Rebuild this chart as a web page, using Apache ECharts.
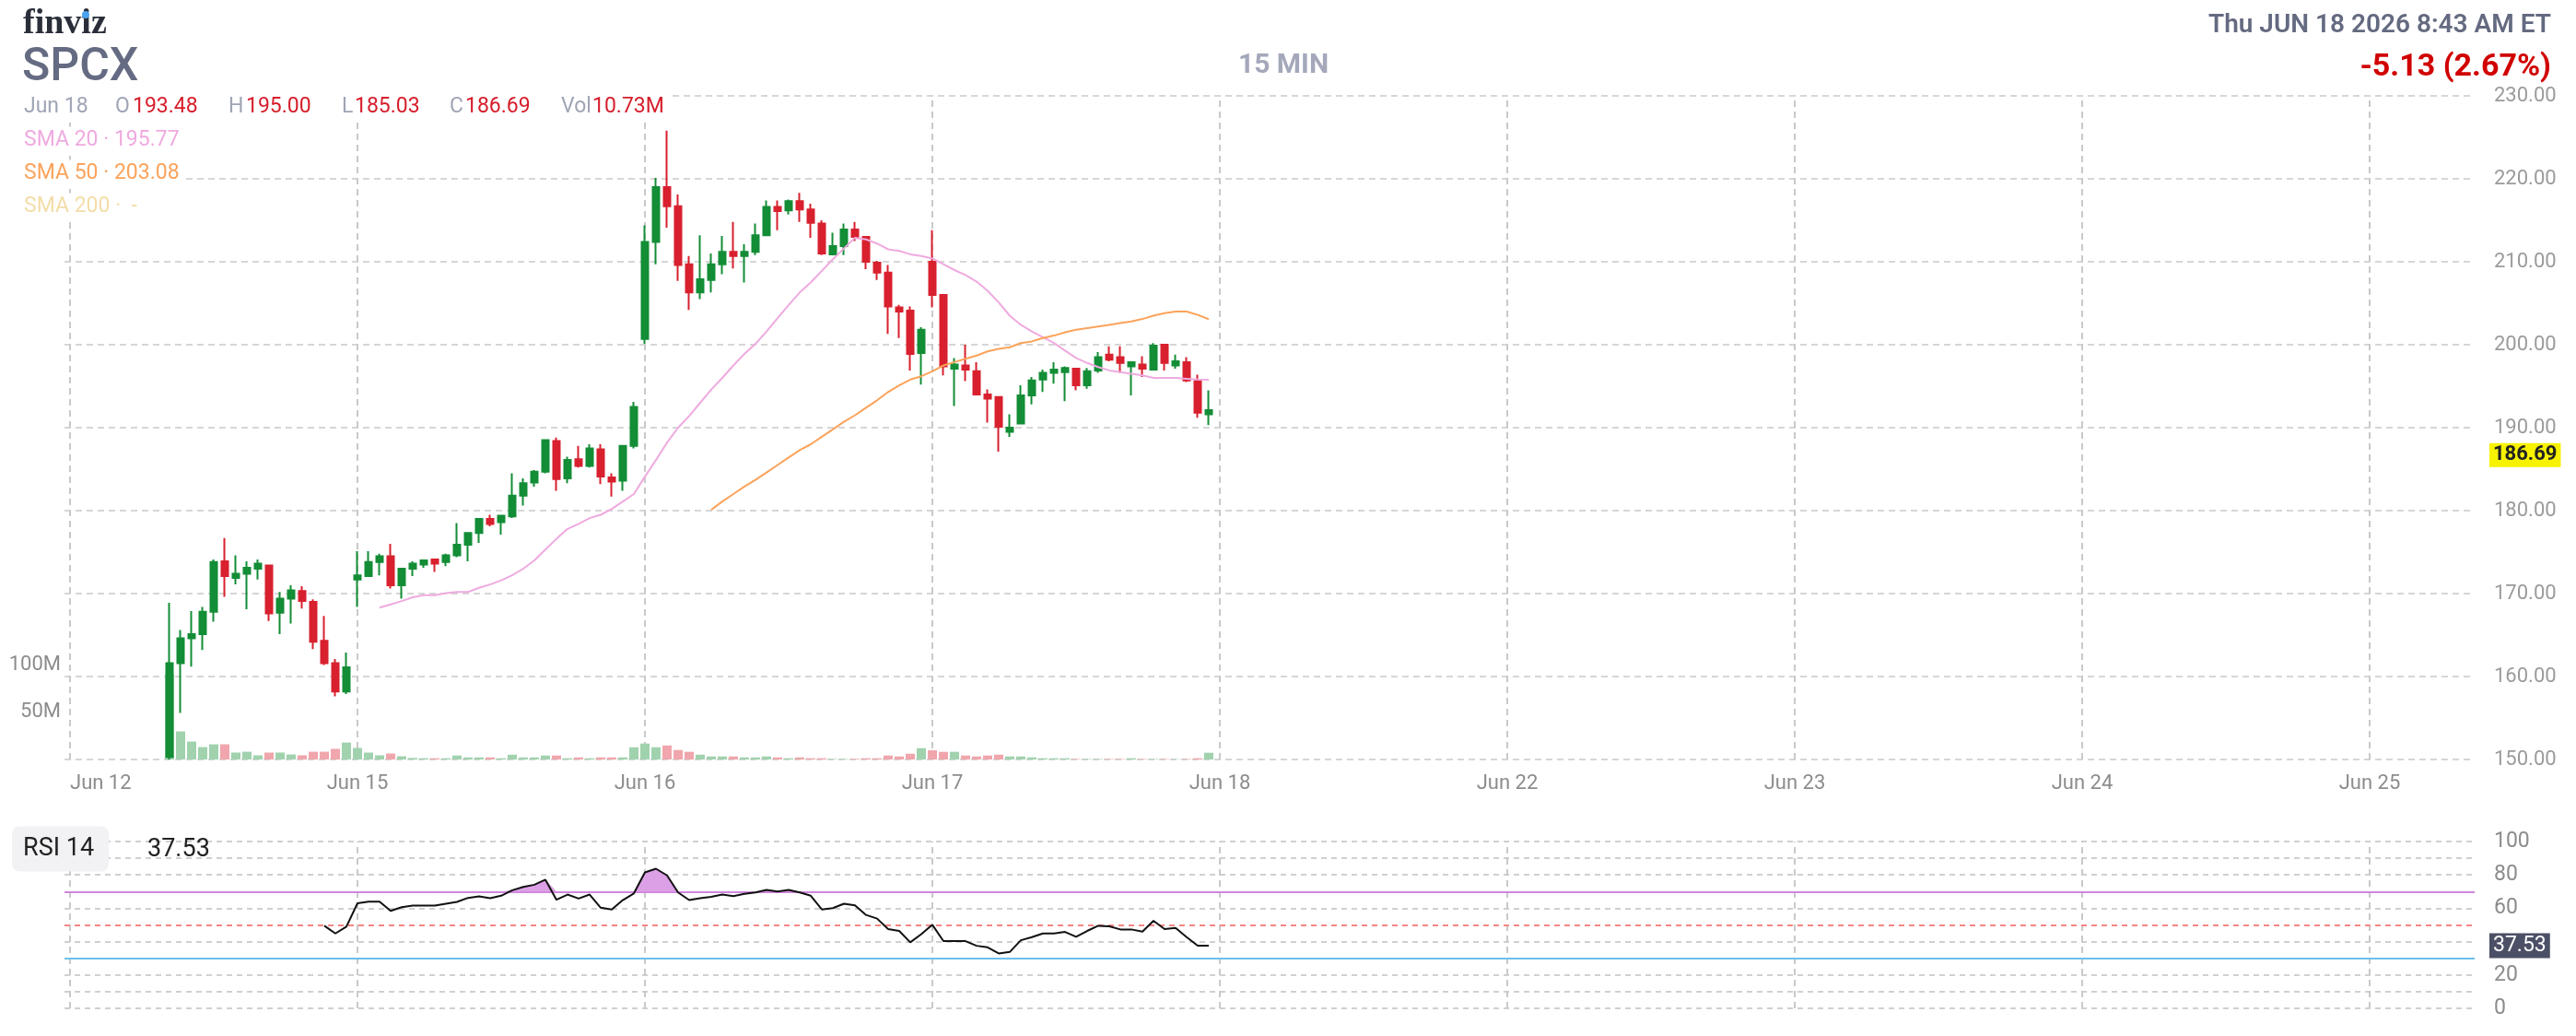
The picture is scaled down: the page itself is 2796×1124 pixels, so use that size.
<!DOCTYPE html>
<html>
<head>
<meta charset="utf-8">
<title>SPCX 15 MIN</title>
<script src="https://cdn.jsdelivr.net/npm/echarts@6/dist/echarts.min.js"></script>
<style>
  html, body { margin: 0; padding: 0; background: #fff; }
  #chart { width: 2796px; height: 1124px; }
</style>
</head>
<body>
<div id="chart"></div>
<script>
// sessions on the x axis, 26 fifteen-minute slots each
const days = ['Jun 12', 'Jun 15', 'Jun 16', 'Jun 17', 'Jun 18', 'Jun 22', 'Jun 23', 'Jun 24', 'Jun 25']
const barsPerDay = 26
const slotCount = 218

// [open, close, low, high]
const jun12Bars = [
  [150.3, 161.6, 150.0, 168.9], [161.6, 164.6, 155.6, 165.6], [164.6, 165.1, 161.2, 167.9],
  [165.1, 167.8, 163.2, 168.4], [167.8, 173.8, 166.6, 174.1], [173.9, 172.1, 169.6, 176.7],
  [171.9, 172.4, 171.1, 174.6], [172.4, 173.1, 168.1, 173.9], [173.0, 173.6, 171.7, 174.1],
  [173.4, 167.6, 166.7, 173.4], [167.7, 169.4, 165.1, 170.2], [169.4, 170.4, 166.4, 171.0],
  [170.3, 169.1, 168.2, 170.9], [169.0, 164.2, 163.3, 169.3], [164.3, 161.6, 161.4, 167.3],
  [161.6, 158.2, 157.6, 162.1], [158.2, 161.1, 157.9, 162.9]
]
const jun15Bars = [
  [171.7, 172.2, 168.4, 175.1], [172.1, 173.8, 172.0, 175.1], [173.8, 174.5, 172.2, 174.8],
  [174.5, 171.0, 170.6, 176.0], [171.0, 173.0, 169.4, 173.1], [173.0, 173.6, 172.1, 173.9],
  [173.5, 174.0, 173.1, 174.1], [174.1, 173.6, 172.6, 174.2], [173.8, 174.6, 173.3, 174.8],
  [174.6, 175.9, 174.4, 178.5], [175.9, 177.3, 173.9, 177.3], [177.3, 179.0, 176.1, 179.1],
  [179.0, 178.4, 178.1, 179.5], [178.6, 179.4, 177.1, 179.5], [179.3, 181.8, 179.1, 184.5],
  [181.8, 183.3, 180.6, 183.9], [183.4, 184.7, 182.9, 184.9], [184.7, 188.5, 184.5, 188.6],
  [188.4, 183.8, 182.4, 188.8], [183.9, 186.1, 183.3, 186.5], [186.2, 185.4, 185.2, 187.8],
  [185.4, 187.5, 185.2, 188.0], [187.4, 184.1, 183.2, 188.0], [184.0, 183.5, 181.7, 184.5],
  [183.6, 187.8, 182.4, 187.8], [187.8, 192.5, 187.5, 193.1]
]
const jun16Bars = [
  [200.7, 212.4, 200.1, 214.4], [212.4, 219.0, 209.7, 220.1], [219.0, 216.7, 214.1, 225.8],
  [216.7, 209.6, 207.7, 218.1], [209.7, 206.3, 204.2, 210.7], [206.3, 207.9, 205.5, 213.2],
  [207.8, 209.7, 206.3, 211.0], [209.7, 211.2, 208.5, 213.1], [211.2, 210.7, 209.2, 214.8],
  [210.7, 211.2, 207.5, 212.1], [211.2, 213.2, 210.8, 214.6], [213.2, 216.6, 213.2, 217.4],
  [216.6, 216.1, 213.8, 217.4], [216.2, 217.3, 215.7, 217.5], [217.3, 216.3, 214.8, 218.3],
  [216.3, 214.7, 212.9, 217.0], [214.6, 211.0, 210.8, 215.0], [210.9, 211.9, 210.8, 213.5],
  [211.9, 213.9, 210.8, 214.6], [213.9, 213.0, 212.5, 214.8], [213.0, 210.0, 209.1, 213.1],
  [209.9, 208.7, 207.8, 210.1], [208.7, 204.6, 201.3, 209.6], [204.5, 204.0, 200.8, 204.8],
  [204.1, 198.9, 196.9, 204.6], [199.0, 201.8, 195.2, 202.1]
]
const jun17Bars = [
  [210.0, 206.0, 204.5, 213.8], [206.0, 197.4, 196.3, 206.1], [197.1, 197.6, 192.6, 198.4],
  [197.5, 197.0, 195.6, 200.0], [196.8, 194.0, 193.9, 197.9], [194.0, 193.5, 190.6, 194.6],
  [193.7, 190.1, 187.1, 193.8], [189.5, 190.0, 188.9, 191.6], [190.5, 193.9, 190.5, 195.1],
  [193.9, 195.7, 192.8, 196.1], [195.8, 196.6, 194.3, 197.0], [196.6, 197.0, 195.3, 197.9],
  [196.7, 197.2, 193.2, 197.4], [197.1, 195.1, 194.5, 197.2], [195.1, 196.8, 194.7, 197.2],
  [196.9, 198.5, 196.6, 199.1], [198.8, 198.2, 198.0, 199.8], [198.5, 197.8, 196.6, 199.8],
  [197.4, 197.9, 193.9, 197.9], [197.6, 197.1, 196.1, 198.6], [197.0, 199.9, 196.9, 200.2],
  [200.0, 197.8, 196.9, 200.1], [197.5, 198.0, 197.1, 198.8], [197.9, 195.7, 195.5, 198.5],
  [195.6, 191.8, 191.2, 196.4], [191.6, 192.1, 190.3, 194.5]
]

// volume, millions
const jun12Vol = [90, 29.6, 18.9, 13.1, 16, 16, 7.3, 8.2, 4.4, 7.3, 7.3, 5.3, 4.4, 8.2, 8.2, 11.2, 17.9]
const jun15Vol = [12.2, 7.3, 4.4, 6.3, 3.4, 1.6, 1.3, 1.3, 1.3, 4.2, 2.2, 2.2, 2.2, 1.3, 5.1, 2.2,
  2.2, 4.2, 4.2, 1.3, 2.2, 1.3, 2.2, 2.2, 2.2, 12.9]
const jun16Vol = [16.8, 12.9, 14.8, 10, 8.1, 5.1, 3.2, 3.2, 3.2, 2.2, 2.2, 3.2, 2.2, 1.3, 2.2, 1.3,
  1.3, 0.5, 0.5, 0.7, 1.3, 1.3, 4.2, 3.2, 6.1, 11.9]
const jun17Vol = [9.7, 8.1, 8.1, 4.2, 3.2, 4.2, 5.1, 3.2, 3.2, 2.2, 1.3, 1.3, 1.3, 0.5, 0.5, 0.5,
  0.5, 0.5, 1.3, 0.5, 0.5, 0.5, 0.3, 0.5, 1.3, 7.1]

// session index in days[] and first bar of each session
const sessionDay = [0, 1, 2, 3]
const sessionFirstBar = [9, 0, 0, 0]
const sessionBars = [jun12Bars, jun15Bars, jun16Bars, jun17Bars]
const sessionVol = [jun12Vol, jun15Vol, jun16Vol, jun17Vol]

// moving averages, starting slot first
const sma20Start = 28
const sma20 = [168.3, 168.7, 169.1, 169.55, 169.8, 169.8, 170.05, 170.2, 170.2, 170.7, 171.1, 171.6,
  172.2, 173.0, 174.0, 175.3, 176.6, 177.8, 178.4, 179.1, 179.5, 180.2, 181.1, 182.0,
  184.1, 186.1, 188.2, 190.0, 191.4, 193.0, 194.6, 196.0, 197.5, 198.9, 200.1, 201.6,
  203.2, 204.8, 206.3, 207.5, 208.9, 210.3, 211.6, 212.9, 212.7, 212.2, 211.5, 211.3,
  210.9, 210.7, 210.4, 209.7, 209.0, 208.4, 207.6, 206.5, 205.1, 203.5, 202.4, 201.6,
  200.9, 200.2, 199.3, 198.4, 197.8, 197.3, 196.9, 196.7, 196.5, 196.3, 196.0, 196.0,
  196.0, 195.9, 195.8, 195.77]
const sma50Start = 58
const sma50 = [180.1, 181.1, 182.0, 182.9, 183.7, 184.6, 185.5, 186.4, 187.3, 188.0, 188.9, 189.8,
  190.7, 191.5, 192.4, 193.3, 194.3, 195.1, 195.8, 196.2, 196.8, 197.5, 197.9, 198.3,
  198.7, 199.2, 199.5, 199.7, 200.2, 200.4, 200.8, 201.1, 201.5, 201.8, 202.0, 202.2,
  202.4, 202.6, 202.8, 203.1, 203.5, 203.8, 204.0, 204.0, 203.6, 203.08]

const rsiStart = 23
const rsi = [49.5, 44.9, 49.0, 63.0, 64.0, 64.0, 58.4, 60.6, 61.6, 61.6, 61.6, 62.7, 63.8, 66.2,
  67.1, 66.0, 67.5, 70.8, 72.8, 74.1, 77.1, 65.1, 68.2, 65.8, 68.2, 60.3, 59.3, 64.9, 68.9,
  81.5, 83.7, 79.7, 69.5, 64.9, 66.0, 66.9, 68.2, 67.3, 68.6, 69.5, 71.0, 70.0, 71.0, 69.5,
  67.5, 59.3, 60.1, 62.7, 61.7, 56.0, 53.8, 47.5, 46.4, 39.6, 44.5, 50.1, 40.3, 40.3, 40.3,
  37.5, 36.6, 32.9, 33.8, 40.8, 42.7, 44.9, 44.9, 45.8, 42.9, 46.4, 49.5, 49.2, 47.3, 47.3,
  46.0, 52.5, 47.5, 48.2, 42.7, 37.6, 37.53]
const rsiLevels = [70, 50, 30]

const priceTicks = [150, 230]
const volLabelTicks = [50, 100]
const rsiLabelTicks = [0, 20, 60, 80, 100]

const lastPrice = 186.69
const lastRsi = 37.53
const quoteLabels = ['O', 'H', 'L', 'C', 'Vol']
const quoteValues = ['193.48', '195.00', '185.03', '186.69', '10.73M']
const smaNames = ['SMA 20', 'SMA 50', 'SMA 200']
const smaLast = ['195.77', '203.08', '-']

const up = '#138d36', down = '#d8202e'
const volUp = '#a0d2ae', volDown = '#f0a6ac'
const smaColors = ['#efaadf', '#fba35b', '#f3dda8']
const font = 'Roboto'

const slots = []
for (let s = 0; s < slotCount; s++) {
  const m = 570 + (s % barsPerDay) * 15
  slots.push(days[Math.floor(s / barsPerDay)] + ' ' + Math.floor(m / 60) + ':' + String(m % 60).padStart(2, '0'))
}

const candleData = []
const volData = []
sessionBars.forEach((bars, k) => {
  bars.forEach((b, i) => {
    const slot = sessionDay[k] * barsPerDay + sessionFirstBar[k] + i
    candleData.push([slot, b[0], b[1], b[2], b[3]])
    volData.push({ value: [slot, sessionVol[k][i]], itemStyle: { color: b[1] >= b[0] ? volUp : volDown } })
  })
})
const sma20Data = sma20.map((v, i) => [sma20Start + i, v])
const sma50Data = sma50.map((v, i) => [sma50Start + i, v])
const rsiData = rsi.map((v, i) => [rsiStart + i, v])
const rsiBase = rsi.map((v, i) => [rsiStart + i, 70])
const rsiOver = rsi.map((v, i) => [rsiStart + i, Math.max(v, 70) - 70])

const dayLines = days.map((d, k) => ({ xAxis: k * barsPerDay }))
const dayLineStyle = { color: '#c9c9c9', type: [7, 5], width: 2 }
const levelStyles = [
  { color: '#d086dc', type: 'solid', width: 2 },
  { color: '#f78484', type: [6, 5], width: 2 },
  { color: '#6dc0ea', type: 'solid', width: 2 }
]
const hiddenLine = { color: 'rgba(0,0,0,0)', width: 1 }

function txt(text, x, y, fnt, fill, align, extra) {
  return {
    type: 'text', x: x, y: y, z: 100,
    style: Object.assign({
      text: text, font: fnt, fill: fill,
      align: align || 'left', textAlign: align || 'left',
      verticalAlign: 'middle', textVerticalAlign: 'middle'
    }, extra || {})
  }
}

const quoteX = [[125, 144], [248, 267], [371, 385], [488, 505], [609, 643]]
const headerFont = '23px ' + font
const graphics = [
  { type: 'rect', z: 99, shape: { x: 20, y: 101, width: 708, height: 30 }, style: { fill: '#fff' } },
  txt('finviz', 25, 26, 'bold 38px "Liberation Serif"', '#2a2e39'),
  { type: 'circle', z: 101, shape: { cx: 93, cy: 16, r: 4 }, style: { fill: '#4aa3f0' } },
  txt('SPCX', 24, 74, '500 50px ' + font, '#656b82'),
  txt('15 MIN', 1393, 71, 'bold 30px ' + font, '#a4a8ba', 'center'),
  txt('Thu JUN 18 2026 8:43 AM ET', 2769, 28, '600 28px ' + font, '#646a80', 'right'),
  txt('-5.13 (2.67%)', 2769, 73, 'bold 34px ' + font, '#d10000', 'right'),
  txt('Jun 18', 26, 116, headerFont, '#a0a5b6')
]
quoteLabels.forEach((l, i) => {
  graphics.push(txt(l, quoteX[i][0], 116, headerFont, '#a0a5b6'))
  graphics.push(txt(quoteValues[i], quoteX[i][1], 116, headerFont, '#d61e2b'))
})
const smaY = [152, 188, 224]
smaNames.forEach((n, i) => {
  graphics.push(txt(n + ' \u00b7 ' + (i === 2 ? ' ' : '') + smaLast[i], 26, smaY[i], headerFont, smaColors[i], 'left',
    { backgroundColor: '#fff', padding: [3, 4, 3, 0] }))
})
graphics.push(txt('RSI 14', 13, 921, '27px ' + font, '#222', 'left',
  { backgroundColor: '#f2f2f4', borderRadius: 8, padding: [11, 16, 11, 12] }))
graphics.push(txt(String(lastRsi), 160, 922, '27px ' + font, '#222'))

const option = {
  animation: false,
  backgroundColor: '#fff',
  textStyle: { fontFamily: font },
  grid: [
    { left: 70, width: 2616, top: 104, height: 720 },
    { left: 70, width: 2616, top: 913, height: 181 }
  ],
  xAxis: [
    {
      type: 'category', gridIndex: 0, data: slots, boundaryGap: true,
      axisLine: { show: false }, axisTick: { show: false }, splitLine: { show: false },
      axisLabel: {
        interval: (i) => i % barsPerDay === 0,
        formatter: (v) => v.slice(0, 6),
        color: '#8c8c8c', fontSize: 22, margin: 15, alignMinLabel: 'left'
      }
    },
    {
      type: 'category', gridIndex: 1, data: slots, boundaryGap: true,
      axisLine: { show: false }, axisTick: { show: false }, axisLabel: { show: false }, splitLine: { show: false }
    }
  ],
  yAxis: [
    {
      type: 'value', gridIndex: 0, position: 'right', min: priceTicks[0], max: priceTicks[1], interval: 10,
      axisLine: { show: false }, axisTick: { show: false },
      axisLabel: { formatter: (v) => v.toFixed(2), color: '#9b9b9b', fontSize: 22, margin: 21 },
      splitLine: { lineStyle: { color: '#d6d6d6', type: [7, 5], width: 2 } }
    },
    {
      type: 'value', gridIndex: 0, position: 'left', min: 0, max: 700, interval: 50,
      axisLine: { show: false }, axisTick: { show: false }, splitLine: { show: false },
      axisLabel: {
        formatter: (v) => volLabelTicks.includes(v) ? v + 'M' : '',
        color: '#8c8c8c', fontSize: 22, margin: 4
      }
    },
    {
      type: 'value', gridIndex: 1, position: 'right', min: 0, max: 100, interval: 10,
      axisLine: { show: false }, axisTick: { show: false },
      axisLabel: {
        formatter: (v) => rsiLabelTicks.includes(v) ? String(v) : '',
        color: '#8c8c8c', fontSize: 23, margin: 21
      },
      splitLine: { lineStyle: { color: '#d0d0d0', type: [6, 5], width: 2 } }
    }
  ],
  series: [
    {
      name: 'Volume', type: 'bar', xAxisIndex: 0, yAxisIndex: 1, barWidth: 10,
      data: volData,
      markLine: {
        z: 1, silent: true, symbol: 'none', label: { show: false },
        lineStyle: dayLineStyle, data: dayLines
      }
    },
    {
      name: 'SPCX', type: 'candlestick', xAxisIndex: 0, yAxisIndex: 0, barWidth: 8,
      encode: { x: 0, y: [1, 2, 3, 4] },
      data: candleData,
      itemStyle: { color: up, color0: down, borderColor: up, borderColor0: down, borderWidth: 2 },
      markLine: {
        silent: true, symbol: 'none', lineStyle: hiddenLine,
        label: {
          show: true, position: 'end', distance: 16, formatter: lastPrice.toFixed(2),
          backgroundColor: '#f7f200', color: '#222', fontWeight: 'bold', fontSize: 22, padding: [2, 4]
        },
        data: [{ yAxis: lastPrice }]
      }
    },
    {
      name: 'SMA 20', type: 'line', xAxisIndex: 0, yAxisIndex: 0, data: sma20Data,
      showSymbol: false, lineStyle: { color: smaColors[0], width: 2 }
    },
    {
      name: 'SMA 50', type: 'line', xAxisIndex: 0, yAxisIndex: 0, data: sma50Data,
      showSymbol: false, lineStyle: { color: smaColors[1], width: 2 }
    },
    {
      name: 'RSI base', type: 'line', xAxisIndex: 1, yAxisIndex: 2, data: rsiBase,
      stack: 'ob', stackStrategy: 'all', showSymbol: false, lineStyle: { opacity: 0 },
      markLine: {
        z: 1, silent: true, symbol: 'none', label: { show: false },
        data: dayLines.map((d) => Object.assign({ lineStyle: dayLineStyle }, d))
          .concat(rsiLevels.map((v, i) => ({ yAxis: v, lineStyle: levelStyles[i] })))
      }
    },
    {
      name: 'RSI over', type: 'line', xAxisIndex: 1, yAxisIndex: 2, data: rsiOver,
      stack: 'ob', stackStrategy: 'all', showSymbol: false, lineStyle: { opacity: 0 },
      areaStyle: { color: '#dca0e6', opacity: 1 }
    },
    {
      name: 'RSI 14', type: 'line', xAxisIndex: 1, yAxisIndex: 2, data: rsiData, z: 3,
      showSymbol: false, lineStyle: { color: '#111', width: 2 },
      markLine: {
        silent: true, symbol: 'none', lineStyle: hiddenLine,
        label: {
          show: true, position: 'end', distance: 16, formatter: lastRsi.toFixed(2),
          backgroundColor: '#4b5066', color: '#fff', fontSize: 23, padding: [2, 4]
        },
        data: [{ yAxis: lastRsi }]
      }
    }
  ],
  graphic: graphics
}

const chart = echarts.init(document.getElementById('chart'))
chart.setOption(option)
window.addEventListener('resize', () => chart.resize())
</script>
</body>
</html>
